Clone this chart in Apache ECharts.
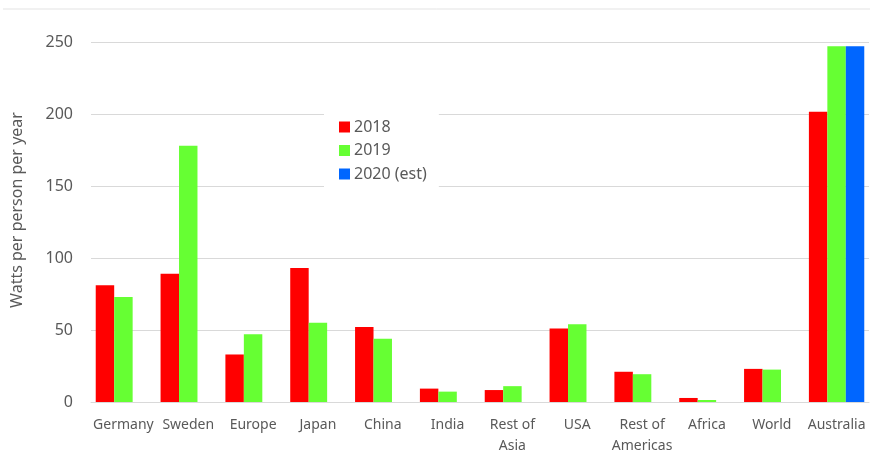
<!DOCTYPE html>
<html>
<head>
<meta charset="utf-8">
<script src="https://cdn.jsdelivr.net/npm/echarts@6/dist/echarts.min.js"></script>
<style>
  html, body { margin: 0; padding: 0; background: #fff; }
  #chart { width: 870px; height: 452px; }
</style>
</head>
<body>
<div id="chart"></div>
<script>
// Solar capacity added per person per year, by region
const regions = ['Germany', 'Sweden', 'Europe', 'Japan', 'China', 'India', 'Rest of\nAsia',
  'USA', 'Rest of\nAmericas', 'Africa', 'World', 'Australia'];
const values2018 = [81, 89, 33, 93, 52, 9.3, 8.3, 51, 21, 2.8, 23, 201.5];
const values2019 = [73, 178, 47, 55, 44, 7.2, 11, 54, 19.3, 1.4, 22.5, 247];
const values2020 = [null, null, null, null, null, null, null, null, null, null, null, 247];
const yTicks = [0, 50, 100, 150, 200, 250];

const textColor = '#595959';
const font = 'Noto Sans';

const chart = echarts.init(document.getElementById('chart'));
chart.setOption({
  animation: false,
  grid: { left: 91, right: 1, top: 42, bottom: 50, outerBoundsMode: 'none' },
  graphic: [{
    type: 'line',
    shape: { x1: 3, y1: 9, x2: 870, y2: 9 },
    style: { stroke: '#e3e3e3', lineWidth: 1 }
  }],
  legend: {
    orient: 'vertical',
    left: 324,
    top: 110,
    padding: [9, 12, 9, 15],
    backgroundColor: '#ffffff',
    itemWidth: 11,
    itemHeight: 11,
    itemGap: 7.5,
    icon: 'rect',
    textStyle: { color: textColor, fontFamily: font, fontSize: 16, padding: [0, 0, 0, -1] },
    data: ['2018', '2019', '2020 (est)']
  },
  xAxis: {
    type: 'category',
    data: regions,
    axisLine: { lineStyle: { color: '#d9d9d9', width: 1 } },
    axisTick: { show: false },
    axisLabel: {
      color: textColor, fontFamily: font, fontSize: 14,
      lineHeight: 21, margin: 12.5, interval: 0
    }
  },
  yAxis: {
    type: 'value',
    min: yTicks[0],
    max: yTicks[yTicks.length - 1],
    interval: 50,
    name: 'Watts per person per year',
    nameLocation: 'middle',
    nameGap: 66,
    nameRotate: 90,
    nameTextStyle: { color: textColor, fontFamily: font, fontSize: 16, padding: [0, 0, 0, 24] },
    axisLine: { show: false },
    axisTick: { show: false },
    axisLabel: { color: textColor, fontFamily: font, fontSize: 16, margin: 18 },
    splitLine: { lineStyle: { color: '#d9d9d9', width: 1 } }
  },
  series: [
    { name: '2018', type: 'bar', data: values2018, itemStyle: { color: '#ff0000' },
      barGap: 0, barCategoryGap: '14.6%' },
    { name: '2019', type: 'bar', data: values2019, itemStyle: { color: '#66ff33' },
      barGap: 0, barCategoryGap: '14.6%' },
    { name: '2020 (est)', type: 'bar', data: values2020, itemStyle: { color: '#0066ff' },
      barGap: 0, barCategoryGap: '14.6%' }
  ]
});
</script>
</body>
</html>
